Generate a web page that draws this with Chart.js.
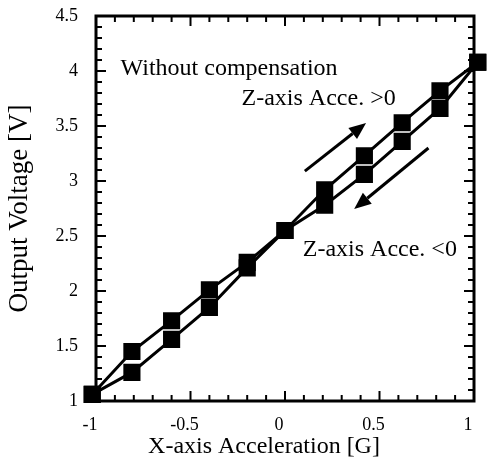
<!DOCTYPE html>
<html>
<head>
<meta charset="utf-8">
<script src="https://cdn.jsdelivr.net/npm/chart.js@4.4.1/dist/chart.umd.min.js"></script>
<style>
    body { margin: 0; background: #fff; }
</style>
</head>
<body>
<canvas id="chart" width="487" height="464"></canvas>
<script>
// values
const accel = [-1.02, -0.81, -0.60, -0.40, -0.20, 0.00, 0.21, 0.42, 0.62, 0.82, 1.02];
const voltUp = [1.06, 1.45, 1.73, 2.01, 2.26, 2.55, 2.92, 3.23, 3.53, 3.82, 4.08];
const voltDown = [1.06, 1.26, 1.56, 1.85, 2.21, 2.55, 2.78, 3.06, 3.36, 3.66, 4.08];
const xTicks = [-1, -0.5, 0, 0.5, 1];
const yTicks = [1, 1.5, 2, 2.5, 3, 3.5, 4, 4.5];

// annotations (data coordinates)
const notes = [
    { text: 'Without compensation', x: -0.87, y: 3.96 },
    { text: 'Z-axis Acce. >0', x: -0.23, y: 3.69 },
    { text: 'Z-axis Acce. <0', x: 0.094, y: 2.32 }
];
const arrows = [
    { from: [0.105, 3.09], to: [0.429, 3.527] },
    { from: [0.759, 3.30], to: [0.366, 2.745] }
];

const serif = "'Liberation Serif', 'Times New Roman', serif";
Chart.defaults.font.family = serif;
Chart.defaults.color = '#000';

function toPoints(ys) {
    return accel.map((x, i) => ({ x: x, y: ys[i] }));
}

const series = (label, ys) => ({
    label: label,
    data: toPoints(ys),
    showLine: true,
    borderColor: '#000',
    backgroundColor: '#000',
    borderWidth: 3,
    pointStyle: 'rect',
    pointRadius: 10,
    pointHoverRadius: 10,
    clip: false
});

// keep label overflow from shrinking the plot box
function noPad(s) {
    s.paddingTop = 0; s.paddingBottom = 0;
    s.paddingLeft = 0; s.paddingRight = 0;
}

// frame, inward ticks, arrows and notes
const decor = {
    id: 'decor',
    afterDraw(chart) {
        const ctx = chart.ctx;
        const { left, right, top, bottom } = chart.chartArea;
        const xs = chart.scales.x, ys = chart.scales.y;
        ctx.save();
        ctx.strokeStyle = '#000';
        ctx.lineWidth = 3;
        ctx.strokeRect(left, top, right - left, bottom - top);

        ctx.lineWidth = 2;
        ctx.beginPath();
        for (let i = 0; i <= 20; i++) {
            const px = xs.getPixelForValue(-1 + i / 10);
            const len = i % 5 === 0 ? 10 : 6;
            ctx.moveTo(px, bottom); ctx.lineTo(px, bottom - len);
            ctx.moveTo(px, top); ctx.lineTo(px, top + len);
        }
        for (let i = 0; i <= 35; i++) {
            const py = ys.getPixelForValue(1 + i / 10);
            const len = i % 5 === 0 ? 10 : 6;
            ctx.moveTo(left, py); ctx.lineTo(left + len, py);
            ctx.moveTo(right, py); ctx.lineTo(right - len, py);
        }
        ctx.stroke();

        // arrows
        ctx.fillStyle = '#000';
        ctx.lineWidth = 3;
        arrows.forEach(a => {
            const x1 = xs.getPixelForValue(a.from[0]), y1 = ys.getPixelForValue(a.from[1]);
            const x2 = xs.getPixelForValue(a.to[0]), y2 = ys.getPixelForValue(a.to[1]);
            const ang = Math.atan2(y2 - y1, x2 - x1);
            const head = 17, half = 7;
            const bx = x2 - head * Math.cos(ang), by = y2 - head * Math.sin(ang);
            ctx.beginPath();
            ctx.moveTo(x1, y1); ctx.lineTo(bx, by);
            ctx.stroke();
            ctx.beginPath();
            ctx.moveTo(x2, y2);
            ctx.lineTo(bx + half * Math.sin(ang), by - half * Math.cos(ang));
            ctx.lineTo(bx - half * Math.sin(ang), by + half * Math.cos(ang));
            ctx.closePath();
            ctx.fill();
        });

        // notes
        ctx.font = '24px ' + serif;
        ctx.textAlign = 'left';
        ctx.textBaseline = 'alphabetic';
        notes.forEach(n => {
            ctx.fillText(n.text, xs.getPixelForValue(n.x), ys.getPixelForValue(n.y));
        });

        // x axis title (sits a little left of centre in the original)
        ctx.textAlign = 'center';
        ctx.fillText('X-axis Acceleration [G]', (left + right) / 2 - 21, 453);
        ctx.restore();
    }
};

new Chart(document.getElementById('chart'), {
    type: 'scatter',
    data: {
        datasets: [
            series('Z-axis Acce. >0', voltUp),
            series('Z-axis Acce. <0', voltDown)
        ]
    },
    options: {
        responsive: false,
        animation: false,
        layout: { padding: { top: 16, right: 9, left: 0, bottom: 0 } },
        plugins: {
            legend: { display: false },
            tooltip: { enabled: false }
        },
        scales: {
            x: {
                type: 'linear',
                min: -1,
                max: 1,
                afterBuildTicks: s => { s.ticks = xTicks.map(v => ({ value: v })); },
                afterFit: s => { s.height = 63; noPad(s); },
                grid: { display: false, drawTicks: false },
                border: { display: false },
                ticks: {
                    font: { size: 18 },
                    color: '#000',
                    padding: 13,
                    labelOffset: -6,
                    maxRotation: 0,
                    callback: v => String(v)
                }
            },
            y: {
                min: 1,
                max: 4.5,
                afterBuildTicks: s => { s.ticks = yTicks.map(v => ({ value: v })); },
                afterFit: s => { s.width = 96; noPad(s); },
                grid: { display: false, drawTicks: false },
                border: { display: false },
                ticks: {
                    font: { size: 18 },
                    color: '#000',
                    padding: 18,
                    callback: v => String(v)
                },
                title: {
                    display: true,
                    text: 'Output Voltage [V]',
                    font: { size: 27 },
                    color: '#000',
                    padding: { top: 4, bottom: 4 }
                }
            }
        }
    },
    plugins: [decor]
});
</script>
</body>
</html>
